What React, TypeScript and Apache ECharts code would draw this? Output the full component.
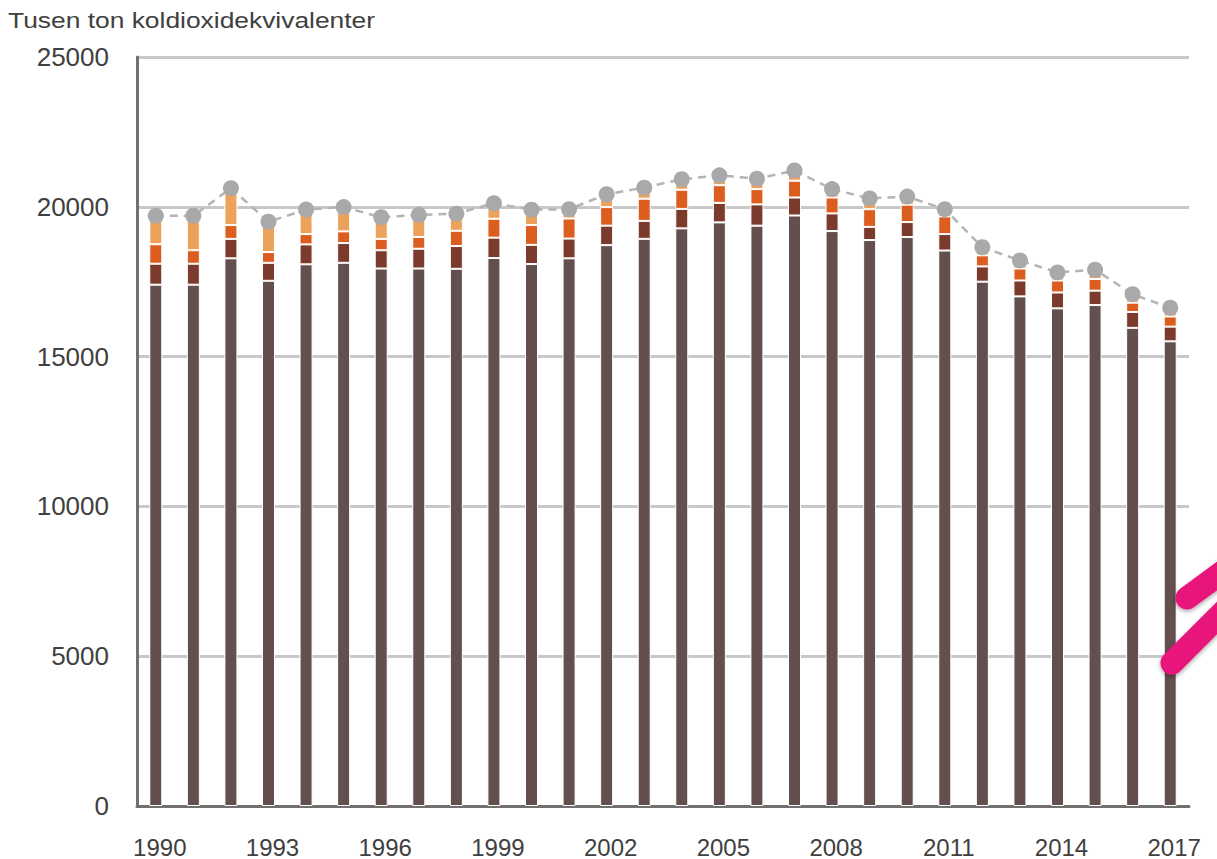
import React, { useEffect, useRef } from "react";
import * as echarts from "echarts";

const years = ["1990","1991","1992","1993","1994","1995","1996","1997","1998","1999","2000","2001","2002","2003","2004","2005","2006","2007","2008","2009","2010","2011","2012","2013","2014","2015","2016","2017"];
const base = [17400,17400,18280,17530,18080,18130,17940,17940,17930,18290,18090,18280,18720,18930,19280,19480,19370,19710,19190,18890,18990,18540,17500,17010,16610,16720,15960,15510];
const darkRed = [700,700,650,600,665,660,610,660,760,680,640,660,650,600,650,650,710,600,590,440,500,550,510,530,530,480,530,490];
const orange = [650,450,460,360,345,390,380,390,510,630,660,670,620,740,640,590,510,560,530,590,580,590,370,400,400,390,310,340];
const lightOrange = [950,1150,1230,1010,820,810,720,740,570,520,510,310,430,370,350,330,350,340,280,360,270,240,270,270,270,310,280,290];
const total = [19700,19700,20620,19500,19910,19990,19650,19730,19770,20120,19900,19920,20420,20640,20920,21050,20940,21210,20590,20280,20340,19920,18650,18210,17810,17900,17080,16630];
const yTicks = [0, 5000, 10000, 15000, 20000, 25000];
const unitLabel = "Tusen ton koldioxidekvivalenter";

const FONT = "'Liberation Sans', Arial, sans-serif";

export default function App() {
  const ref = useRef<HTMLDivElement>(null);
  useEffect(() => {
    if (!ref.current) return;
    const chart = echarts.init(ref.current, undefined, { renderer: "svg" });
    const barSeries = (name: string, data: number[], color: string) => ({
      name,
      type: "bar",
      stack: "s",
      data,
      barWidth: 13,
      itemStyle: { color, borderColor: "#ffffff", borderWidth: 1 },
    });
    const arrowStyle = {
      stroke: "#e8137a",
      lineWidth: 23,
      lineCap: "round",
      shadowBlur: 4,
      shadowColor: "rgba(0,0,0,0.35)",
      shadowOffsetY: 2,
    };
    chart.setOption({
      animation: false,
      textStyle: { fontFamily: FONT },
      grid: { left: 137, right: 28, top: 57, bottom: 52, containLabel: false },
      xAxis: {
        type: "category",
        data: years,
        boundaryGap: true,
        axisLine: { lineStyle: { color: "#707070", width: 3 } },
        axisTick: { show: false },
        axisLabel: {
          interval: 2,
          fontSize: 24,
          color: "#404040",
          margin: 29,
          padding: [0, 0, 0, 8],
          fontFamily: FONT,
        },
        splitLine: { show: false },
      },
      yAxis: {
        type: "value",
        min: yTicks[0],
        max: yTicks[yTicks.length - 1],
        interval: 5000,
        axisLine: { show: true, lineStyle: { color: "#707070", width: 3 } },
        axisTick: { show: false },
        axisLabel: {
          fontSize: 26,
          color: "#404040",
          margin: 28,
          fontFamily: FONT,
          formatter: (v: number) => String(v),
        },
        splitLine: { lineStyle: { color: "#c8c8c8", width: 3 } },
      },
      series: [
        barSeries("base", base, "#634f4d"),
        barSeries("darkRed", darkRed, "#7a3a2c"),
        barSeries("orange", orange, "#db5d1f"),
        barSeries("lightOrange", lightOrange, "#eca25b"),
        {
          name: "total",
          type: "line",
          data: total,
          symbol: "circle",
          symbolSize: 16,
          itemStyle: { color: "#a9a9a9" },
          lineStyle: { color: "#b4b4b4", width: 2.5, type: [8, 6] },
          z: 5,
        },
      ],
      graphic: [
        {
          type: "text",
          x: 8,
          y: 20,
          scaleX: 1.2,
          style: {
            text: unitLabel,
            fontFamily: FONT,
            fontSize: 22,
            fill: "#404040",
            textVerticalAlign: "middle",
            textAlign: "left",
          },
        },
        { type: "line", shape: { x1: 1172, y1: 663, x2: 1262, y2: 573 }, style: arrowStyle, z: 100 },
        { type: "line", shape: { x1: 1187, y1: 598, x2: 1262, y2: 543 }, style: arrowStyle, z: 100 },
      ],
    });
    return () => chart.dispose();
  }, []);
  return (
    <div
      ref={ref}
      style={{ position: "fixed", left: 0, top: 0, width: 1217, height: 859, background: "#ffffff" }}
    />
  );
}
